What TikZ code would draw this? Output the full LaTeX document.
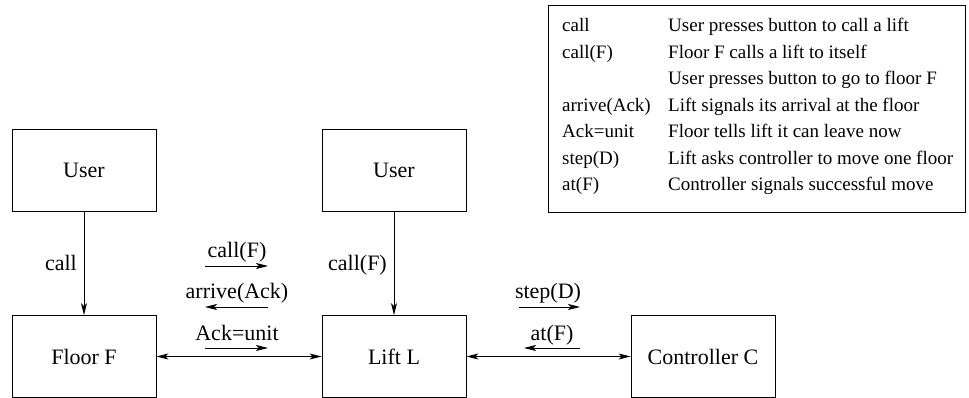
\documentclass[tikz,border=0pt]{standalone}
\usepackage{fontspec}
\setmainfont{Liberation Serif}
\usepackage{tikz}
\usetikzlibrary{arrows.meta}
\tikzset{
  tip/.tip={Stealth[length=12pt,width=6pt,inset=3pt]},
  proc/.style={draw,line width=0.9pt,minimum width=144pt,minimum height=82pt,inner sep=0pt},
  msg/.style={line width=0.9pt,-tip},
  link/.style={line width=0.9pt,tip-tip},
  lbl/.style={inner sep=0pt}
}
\begin{document}
\begin{tikzpicture}[x=1pt,y=-1pt,font=\fontsize{22}{26}\selectfont]
        \useasboundingbox (0,0) rectangle (969,398);
        % processes
        \node[proc] (user1) at (84,170.5) {User};
        \node[proc] (floor) at (84,356.5) {Floor F};
        \node[proc] (user2) at (394,170.5) {User};
        \node[proc] (lift) at (394,356.5) {Lift L};
        \node[proc] (ctrl) at (703,356.5) {Controller C};
        % channels
        \draw[msg] (user1) -- (floor);
        \draw[msg] (user2) -- (lift);
        \draw[link] (floor) -- (lift);
        \draw[link] (lift) -- (ctrl);
        \node[lbl,anchor=base east] (lcall) at (77,270) {call};
        \node[lbl,anchor=base east] (lcallf) at (387,270) {call(F)};
        % messages between floor and lift
        \node[lbl,anchor=base] (mcall) at (237,257) {call(F)};
        \node[lbl,anchor=base] (marrive) at (237,298) {arrive(Ack)};
        \node[lbl,anchor=base] (mack) at (237,340) {Ack=unit};
        \coordinate (a1) at (205,266); \coordinate (b1) at (268,266);
        \coordinate (a2) at (205,307); \coordinate (b2) at (268,307);
        \coordinate (a3) at (205,348); \coordinate (b3) at (268,348);
        \draw[msg] (a1) -- (b1);
        \draw[msg] (b2) -- (a2);
        \draw[msg] (a3) -- (b3);
        % messages between lift and controller
        \node[lbl,anchor=base] (mstep) at (548,298) {step(D)};
        \node[lbl,anchor=base] (mat) at (552,340) {at(F)};
        \coordinate (c1) at (519,307); \coordinate (d1) at (580,307);
        \coordinate (c2) at (524,348); \coordinate (d2) at (580,348);
        \draw[msg] (c1) -- (d1);
        \draw[msg] (d2) -- (c2);
        % legend
        \draw[line width=0.9pt] (548,5) rectangle (965,212);
        \foreach \k/\d [count=\i] in {call/User presses button to call a lift,
            call(F)/Floor F calls a lift to itself,
            /User presses button to go to floor F,
            arrive(Ack)/Lift signals its arrival at the floor,
            Ack=unit/Floor tells lift it can leave now,
            step(D)/Lift asks controller to move one floor,
            at(F)/Controller signals successful move}{
          \node[lbl,anchor=base west,font=\fontsize{19}{22}\selectfont] (key\i) at (562,{5.5+26.5*\i}) {\k};
          \node[lbl,anchor=base west,font=\fontsize{19}{22}\selectfont] (desc\i) at (668,{5.5+26.5*\i}) {\d};
        }
\end{tikzpicture}
\end{document}
